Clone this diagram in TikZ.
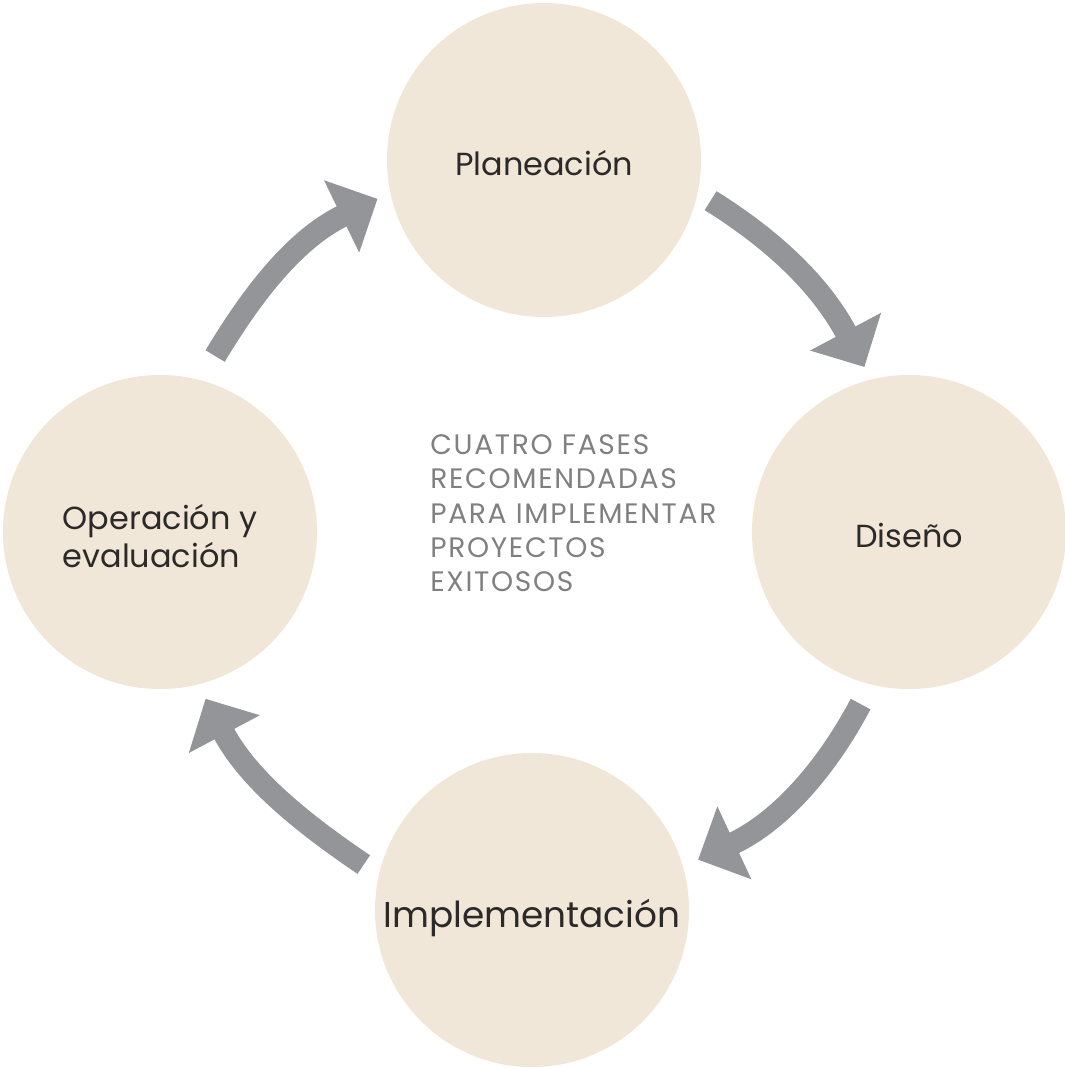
\documentclass[tikz,border=0pt]{standalone}
\usepackage{fontspec}
\setmainfont{Poppins}
\newfontfamily\lemafont[LetterSpace=6]{Poppins}
\usetikzlibrary{arrows.meta}

\definecolor{faseclr}{HTML}{F1E7D8}
\definecolor{flechaclr}{HTML}{939598}
\definecolor{textoclr}{HTML}{2B2A29}
\definecolor{lemaclr}{HTML}{808080}

\tikzset{
  fase/.style={circle, fill=faseclr, minimum size=7.85cm, inner sep=0pt,
    text=textoclr, font=\fontsize{22.7}{27}\selectfont,
    text height=22.5pt, text depth=0pt},
  ciclo/.style={draw=flechaclr, line width=0.56cm,
    -{Triangle[length=1cm,width=1.95cm]}},
}

\begin{document}
\begin{tikzpicture}[x=0.025cm,y=0.025cm]
\useasboundingbox (0,0) rectangle (1065,-1068);

% fases:
\node[fase] (plan) at (544,-160) {Planeación};
\node[fase] (dis) at (909,-532) {Diseño};
\node[fase, font=\fontsize{25.5}{30}\selectfont, text height=24.2pt] (impl) at (532,-910) {Implementación};
\node[fase, align=left, text height=51pt] (oper) at (160,-532) {Operación y\\evaluación};

% centro:
\node[anchor=north west, align=left, inner sep=0pt, text=lemaclr,
  font=\lemafont\fontsize{20}{24.5}\selectfont] (lema) at (430,-434)
  {CUATRO FASES\\RECOMENDADAS\\PARA IMPLEMENTAR\\PROYECTOS\\EXITOSOS};

% flechas:
\draw[ciclo, shorten <=0.375cm, shorten >=0.35cm] (plan.-12) to[out=-32, in=118] (dis.104);
\draw[ciclo, shorten <=0.55cm, shorten >=0.41cm] (dis.-104) to[out=-118, in=25] (impl.16);
\draw[ciclo, shorten <=0.45cm, shorten >=0.4cm] (impl.167) to[out=146, in=-62] (oper.-76);
\draw[ciclo, shorten <=0.7cm, shorten >=0.35cm] (oper.75) to[out=59, in=-154] (plan.-168);
\end{tikzpicture}
\end{document}
